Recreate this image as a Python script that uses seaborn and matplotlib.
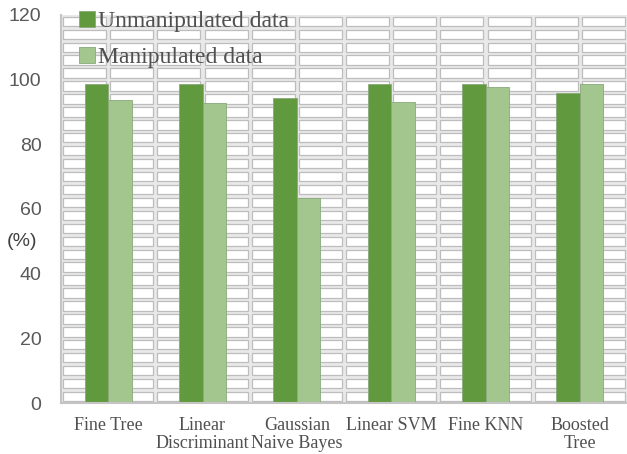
import matplotlib
matplotlib.use("Agg")
import matplotlib.pyplot as plt
from matplotlib.patches import Rectangle
import seaborn as sns
import pandas as pd

categories = ["Fine Tree", "Linear\nDiscriminant", "Gaussian\nNaive Bayes",
              "Linear SVM", "Fine KNN", "Boosted\nTree"]
unmanipulated = [98.6, 98.6, 94.2, 98.6, 98.6, 95.9]
manipulated = [93.7, 92.8, 63.4, 93.2, 97.6, 98.6]
series_names = ["Unmanipulated data", "Manipulated data"]
y_ticks = [0, 20, 40, 60, 80, 100, 120]

df = pd.DataFrame({
    "model": categories * 2,
    "accuracy": unmanipulated + manipulated,
    "series": [series_names[0]] * len(categories) + [series_names[1]] * len(categories),
})

sns.set_theme(style="white")
serif = ["Liberation Serif", "DejaVu Serif"]
sans = ["Liberation Sans", "DejaVu Sans"]

fig = plt.figure(figsize=(6.27, 4.54), dpi=100)
ax = fig.add_axes([0.0973, 0.1123, 0.9027, 0.855])

# tiled cell background of the plot area
ax.set_facecolor("#e9e9e9")
n = len(categories)
dx, dy = 0.022, 0.55
for i in range(2 * n):
    x0 = -0.5 + 0.5 * i
    for j in range(30):
        y0 = 4 * j
        ax.add_patch(Rectangle((x0 + dx, y0 + dy), 0.5 - 2 * dx, 4 - 2 * dy,
                               facecolor="white", edgecolor="#bdbdbd",
                               linewidth=0.9, zorder=0))

sns.barplot(data=df, x="model", y="accuracy", hue="series",
            palette=["#619a3e", "#a3c68f"], saturation=1, width=0.5, gap=0,
            edgecolor="#8aa87a", linewidth=0.6, ax=ax, zorder=2)

ax.set_xlim(-0.5, n - 0.5)
ax.set_ylim(0, 120)
ax.set_yticks(y_ticks)
ax.set_yticklabels([str(t) for t in y_ticks], family=sans, fontsize=14, color="#595959")
ax.set_xticks(range(n))
ax.set_xticklabels(categories, family=serif, fontsize=13, color="#505050",
                   linespacing=1.08)
ax.tick_params(axis="both", length=0)
ax.tick_params(axis="y", pad=14)
ax.tick_params(axis="x", pad=10)
ax.set_xlabel("")
ax.set_ylabel("")

for side in ["top", "right"]:
    ax.spines[side].set_visible(False)
for side in ["left", "bottom"]:
    ax.spines[side].set_color("#c4c4c4")
    ax.spines[side].set_linewidth(1.5)

ax.text(-0.069, 50, "(%)", transform=ax.get_yaxis_transform(), ha="center",
        va="center", fontsize=14, family=sans, color="#404040")

handles, labels = ax.get_legend_handles_labels()
ax.legend(handles, labels, loc="upper left", bbox_to_anchor=(-0.006, 1.065),
          frameon=False, handlelength=0.7, handleheight=0.7,
          handletextpad=0.1, labelspacing=0.6,
          prop={"family": serif, "size": 17}, labelcolor="#505050")

fig.savefig("out.png", dpi=100)
